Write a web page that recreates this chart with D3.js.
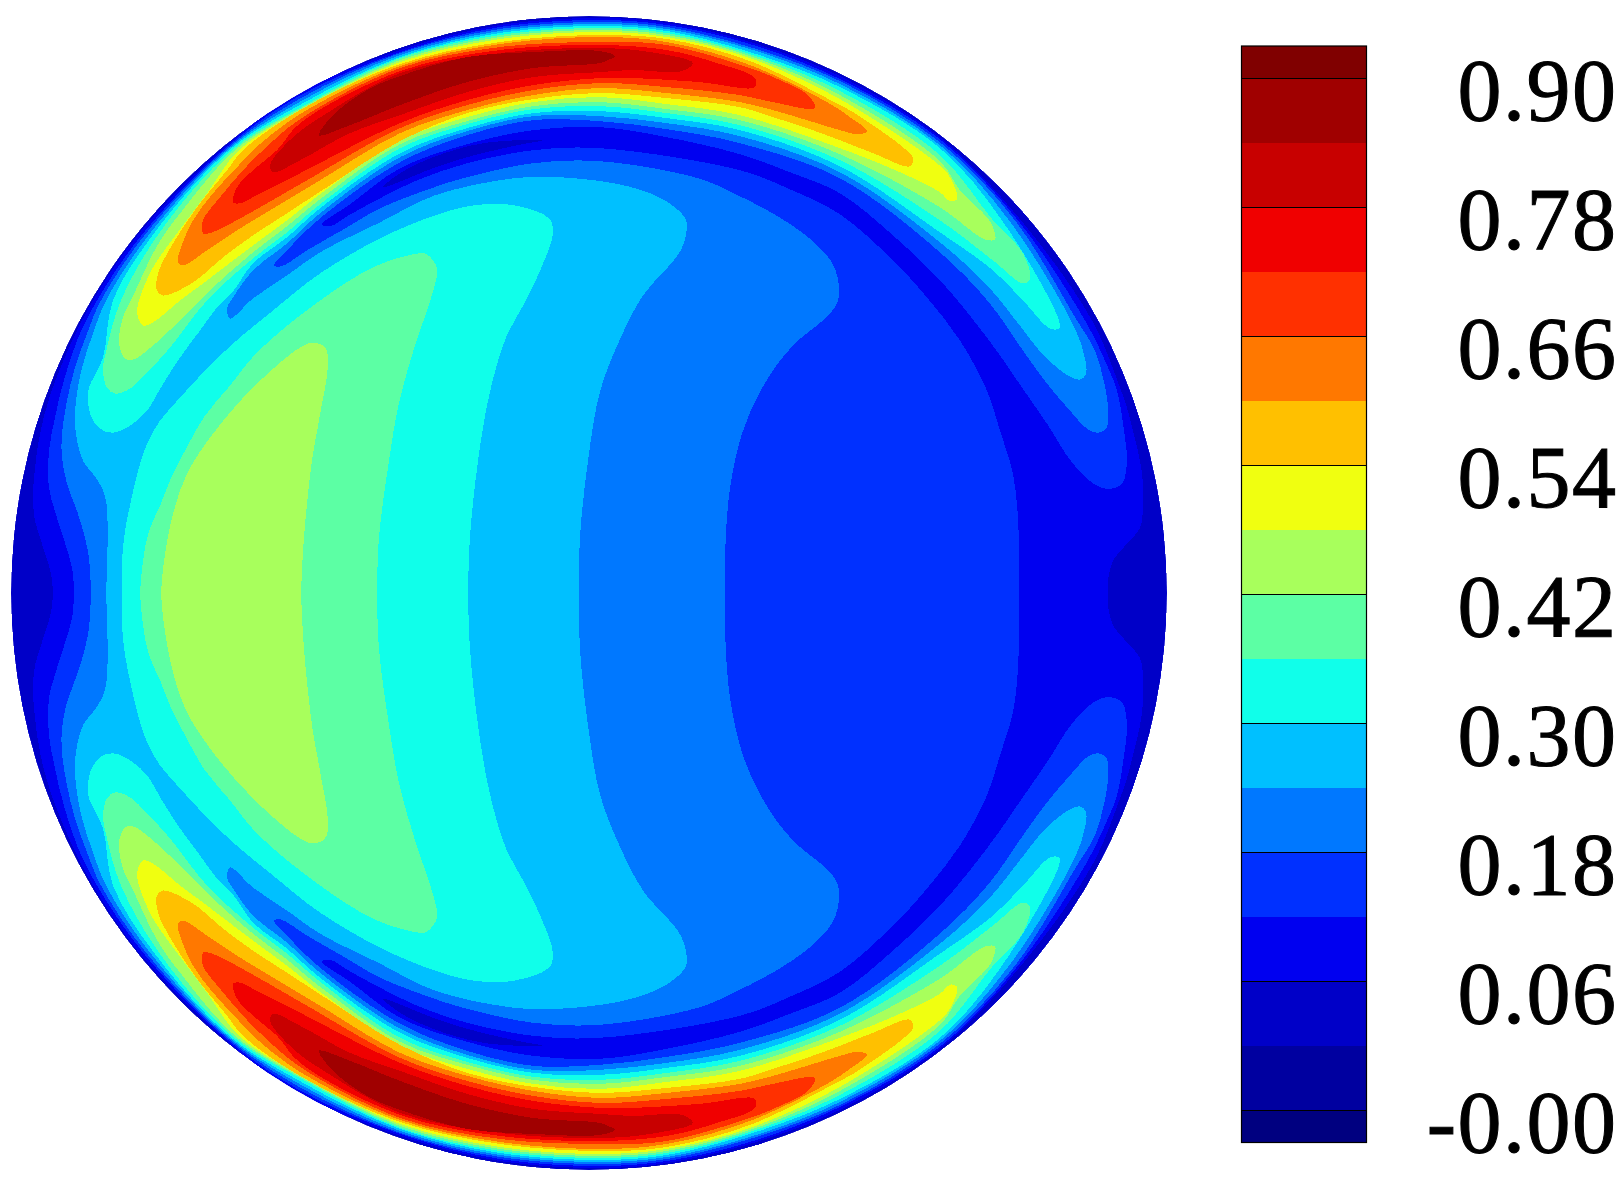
<!DOCTYPE html>
<html><head><meta charset="utf-8">
<script src="https://cdn.jsdelivr.net/npm/d3@7"></script>
<style>html,body{margin:0;padding:0;background:#fff}svg{display:block}</style>
</head><body><svg id="c" width="1620" height="1185"></svg>
<script>
// colour bands, lowest to highest
const bandColors = ["#000080","#0000a0","#0000c8","#0000f0","#0030ff","#0078ff","#00c0ff","#10ffea","#5cffa4","#a8ff5c","#f0ff10","#ffc000","#ff7800","#ff3000","#f00000","#c80000","#a00000","#800000"];
const bandEdges = [-0.09,-0.06,0,0.06,0.12,0.18,0.24,0.30,0.36,0.42,0.48,0.54,0.60,0.66,0.72,0.78,0.84,0.90,0.93];
const tickValues = [0.90,0.78,0.66,0.54,0.42,0.30,0.18,0.06,-0.06];
const tickLabels = ["0.90","0.78","0.66","0.54","0.42","0.30","0.18","0.06","-0.00"];

// contour outlines of the upper half of the disc (the field is mirror symmetric about y = 0)
const region1 = [[-536,0],[-538,19],[-547,49],[-554,72],[-556,97],[-554,125],[-549,159],[-539,197],[-519,247],[-496,292],[-450,359],[-368,442],[-294,497],[-189,542],[-89,567],[11,574],[78,569],[161,550],[251,516],[351,455],[432,372],[503,272],[531,205],[538,185],[544,162],[551,132],[554,109],[554,85],[551,65],[536,47],[524,32],[519,12],[519,0]];
const trough0 = [[-206,405],[-156,424],[-122,435],[-72,447],[-46,452],[-106,449],[-156,435],[-189,419]];
const region2 = [[-515,0],[-517,25],[-532,75],[-540,105],[-540,142],[-534,175],[-526,209],[-512,252],[-492,292],[-446,359],[-366,442],[-292,495],[-189,540],[-89,565],[11,572],[78,567],[161,548],[251,513],[351,453],[429,372],[496,272],[519,225],[528,202],[536,155],[538,132],[533,109],[521,104],[508,107],[484,129],[458,169],[431,208],[409,240],[380,278],[351,312],[304,357],[251,399],[201,420],[151,438],[78,455],[11,465],[-56,462],[-122,448],[-189,424],[-239,388],[-267,368],[-259,366],[-242,376],[-209,394],[-172,412],[-122,429],[-56,442],[11,444],[151,422],[201,403],[251,378],[304,332],[338,295],[371,252],[398,202],[411,162],[424,119],[429,75],[430,40],[430,0]];
const region3 = [[-498,0],[-501,42],[-511,79],[-522,109],[-527,135],[-527,159],[-522,192],[-514,225],[-502,259],[-488,292],[-443,359],[-364,442],[-290,493],[-189,539],[-89,563],[11,570],[78,565],[161,545],[251,511],[351,450],[426,372],[488,272],[506,242],[514,215],[519,185],[517,164],[508,160],[498,164],[481,182],[458,209],[434,242],[400,290],[351,340],[251,414],[151,449],[78,463],[11,471],[-56,472],[-122,457],[-189,430],[-269,374],[-302,342],[-315,327],[-308,326],[-282,342],[-242,365],[-209,384],[-149,407],[-122,415],[-56,429],[11,431],[109,414],[149,397],[192,374],[224,351],[244,328],[250,305],[248,289],[236,274],[208,251],[188,228],[169,197],[153,159],[141,105],[136,36],[136,0]];
const region4 = [[-483,0],[-483,92],[-491,112],[-506,132],[-512,152],[-514,172],[-513,192],[-507,225],[-496,259],[-483,292],[-439,359],[-362,442],[-288,491],[-189,537],[-89,561],[11,568],[78,563],[161,543],[251,508],[351,447],[420,372],[482,272],[494,242],[497,219],[491,213],[479,217],[454,238],[430,268],[400,305],[351,350],[251,420],[151,456],[78,469],[11,476],[-56,476],[-122,461],[-189,435],[-269,379],[-302,349],[-336,322],[-356,295],[-362,284],[-359,274],[-336,294],[-302,317],[-269,340],[-209,370],[-154,397],[-75,414],[-29,415],[30,408],[66,397],[86,385],[97,372],[97,358],[90,339],[54,297],[30,251],[11,201],[-1,132],[-9,56],[-10,0]];
const central5 = [[-467,0],[-467,32],[-464,62],[-458,92],[-451,122],[-442,149],[-429,172],[-409,195],[-384,222],[-356,249],[-316,282],[-269,319],[-209,354],[-154,377],[-115,387],[-75,387],[-40,374],[-36,360],[-48,324],[-67,285],[-83,255],[-99,201],[-111,132],[-119,56],[-121,0]];
const central6 = [[-449,0],[-446,32],[-440,62],[-429,87],[-417,117],[-404,142],[-384,177],[-359,207],[-332,240],[-273,289],[-214,326],[-170,339],[-162,338],[-152,324],[-156,301],[-174,247],[-190,190],[-200,132],[-210,56],[-212,0]];
const central7 = [[-428,0],[-425,32],[-416,79],[-402,119],[-376,159],[-336,205],[-289,245],[-276,250],[-264,245],[-261,229],[-269,178],[-277,132],[-285,56],[-288,0]];
const ridge5 = [[-501,195],[-500,205],[-486,235],[-476,292],[-435,359],[-360,442],[-286,489],[-189,535],[-89,559],[11,566],[78,561],[161,540],[251,505],[351,444],[413,372],[470,272],[470,264],[461,264],[434,292],[404,322],[351,360],[251,426],[151,462],[78,474],[11,481],[-56,479],[-122,464],[-189,439],[-269,384],[-302,355],[-336,329],[-356,301],[-372,285],[-389,262],[-409,235],[-427,207],[-442,182],[-459,167],[-476,160],[-489,164],[-499,179]];
const ridge6 = [[-486,222],[-482,205],[-474,199],[-459,204],[-442,220],[-419,245],[-382,292],[-336,334],[-302,360],[-269,388],[-189,444],[-122,468],[-56,483],[11,486],[78,479],[151,467],[251,432],[351,372],[404,332],[434,309],[441,313],[434,339],[404,372],[351,437],[251,501],[161,538],[78,559],[11,564],[-89,557],[-189,534],[-284,487],[-357,442],[-430,359],[-468,292],[-482,245]];
const ridge7 = [[-470,249],[-464,234],[-456,233],[-442,242],[-409,272],[-376,305],[-336,340],[-302,366],[-269,393],[-189,448],[-122,471],[-56,486],[11,490],[78,483],[151,472],[251,438],[351,385],[396,353],[406,353],[404,365],[398,375],[371,402],[351,431],[251,497],[161,536],[78,557],[11,562],[-89,555],[-189,532],[-283,486],[-354,442],[-412,375],[-424,359],[-436,339],[-458,292],[-466,275]];
const ridge8 = [[-452,280],[-446,267],[-436,270],[-409,292],[-386,309],[-336,347],[-302,372],[-269,398],[-189,452],[-122,475],[-56,490],[11,495],[78,488],[151,477],[251,444],[311,420],[351,400],[361,391],[368,393],[361,415],[348,429],[251,493],[161,534],[78,555],[11,560],[-89,553],[-189,530],[-282,485],[-350,442],[-382,399],[-412,359],[-436,325],[-449,295]];
const ridge9 = [[-432,302],[-426,297],[-396,310],[-366,335],[-336,357],[-302,379],[-256,409],[-189,451],[-122,479],[-56,493],[11,499],[78,494],[151,485],[184,475],[218,464],[251,452],[284,439],[321,426],[324,434],[314,445],[294,460],[264,480],[251,487],[161,531],[78,553],[11,557],[-89,550],[-189,528],[-289,482],[-346,442],[-362,422],[-392,385],[-416,349],[-431,319]];
const ridge10 = [[-411,330],[-406,327],[-382,342],[-352,362],[-319,382],[-269,412],[-189,459],[-122,482],[-56,497],[11,504],[78,499],[151,490],[184,482],[218,472],[251,462],[269,458],[278,461],[261,475],[238,490],[161,527],[78,550],[11,555],[-89,548],[-189,526],[-289,478],[-336,442],[-352,425],[-376,399],[-396,372],[-409,342]];
const ridge11 = [[-386,359],[-380,359],[-362,367],[-329,385],[-282,412],[-189,464],[-122,487],[-56,502],[11,509],[78,505],[151,497],[184,490],[226,484],[219,497],[191,512],[161,524],[78,547],[11,550],[-89,545],[-189,524],[-289,473],[-326,442],[-346,422],[-369,395],[-386,372]];
const ridge12 = [[-356,390],[-349,389],[-329,399],[-289,419],[-189,469],[-122,492],[-56,507],[11,514],[44,514],[111,510],[166,505],[166,514],[128,529],[78,542],[11,547],[-89,542],[-189,521],[-289,469],[-312,442],[-336,422],[-352,405]];
const ridge13 = [[-319,427],[-316,420],[-289,432],[-239,459],[-189,477],[-122,500],[-56,515],[11,520],[44,522],[93,521],[104,529],[61,540],[11,544],[-89,539],[-189,519],[-262,479],[-296,455]];
const ridge14 = [[-270,457],[-239,467],[-189,487],[-122,510],[-56,524],[11,529],[19,532],[26,536],[11,541],[-56,540],[-122,535],[-189,516],[-222,502],[-256,477]];

// paint order: each layer = [outline, band index, closed around itself?]
const layers = [
  [region1,3,false],[trough0,2,true],[region2,4,false],[region3,5,false],[region4,6,false],
  [central5,7,false],[ridge5,7,true],[central6,8,false],[ridge6,8,true],[central7,9,false],[ridge7,9,true],
  [ridge8,10,true],[ridge9,11,true],[ridge10,12,true],[ridge11,13,true],[ridge12,14,true],[ridge13,15,true],[ridge14,16,true]
];

const svg = d3.select("#c");
const x = d3.scaleLinear().domain([-578,578]).range([11,1167]);
const y = d3.scaleLinear().domain([-576,576]).range([1170,16]);
const cb = d3.scaleLinear().domain([-0.09,0.93]).range([1142.5,46]);

const defs = svg.append("defs");
defs.append("clipPath").attr("id","disc").append("ellipse")
  .attr("cx",x(0)).attr("cy",y(0)).attr("rx",x(578)-x(0)).attr("ry",y(0)-y(576));

const g = svg.append("g").attr("clip-path","url(#disc)").attr("shape-rendering","crispEdges");
g.append("ellipse").attr("cx",x(0)).attr("cy",y(0)).attr("rx",x(578)-x(0)).attr("ry",y(0)-y(576)).attr("fill",bandColors[2]);

const openLine = s => d3.line().x(d=>x(d[0])).y(d=>y(s*d[1])).curve(d3.curveCatmullRom.alpha(0.5));
const closedLine = s => d3.line().x(d=>x(d[0])).y(d=>y(s*d[1])).curve(d3.curveCatmullRomClosed.alpha(0.5));
layers.forEach(([pts,band,closed])=>{
  [1,-1].forEach(s=>{
    g.append("path").attr("d",(closed?closedLine(s):openLine(s))(pts)).attr("fill",bandColors[band]);
  });
});

// colour bar
const bx0 = 1241.5, bx1 = 1366.5;
const bar = svg.append("g");
bar.selectAll("rect.band").data(bandColors).join("rect").attr("class","band")
  .attr("x",bx0).attr("width",bx1-bx0)
  .attr("y",(d,i)=>cb(bandEdges[i+1])).attr("height",(d,i)=>cb(bandEdges[i])-cb(bandEdges[i+1]))
  .attr("fill",d=>d).attr("shape-rendering","crispEdges");
const axis = d3.axisRight(cb).tickValues(tickValues).tickFormat((d,i)=>tickLabels[i]).tickSizeInner(-(bx1-bx0)).tickSizeOuter(0).tickPadding(251);
const ag = svg.append("g").attr("transform",`translate(${bx1},0)`).call(axis);
ag.select(".domain").remove();
ag.selectAll("line").attr("stroke","#000").attr("stroke-width",1).attr("shape-rendering","crispEdges");
ag.selectAll("text").attr("text-anchor","end").attr("dy",41).attr("fill","#000").attr("stroke","#000").attr("stroke-width",1)
  .attr("letter-spacing","1.5px")
  .attr("font-family","'Liberation Serif',serif").attr("font-size",88);
svg.append("rect").attr("x",bx0).attr("y",cb(0.93)).attr("width",bx1-bx0).attr("height",cb(-0.09)-cb(0.93))
  .attr("fill","none").attr("stroke","#000").attr("stroke-width",1.2);
</script></body></html>
